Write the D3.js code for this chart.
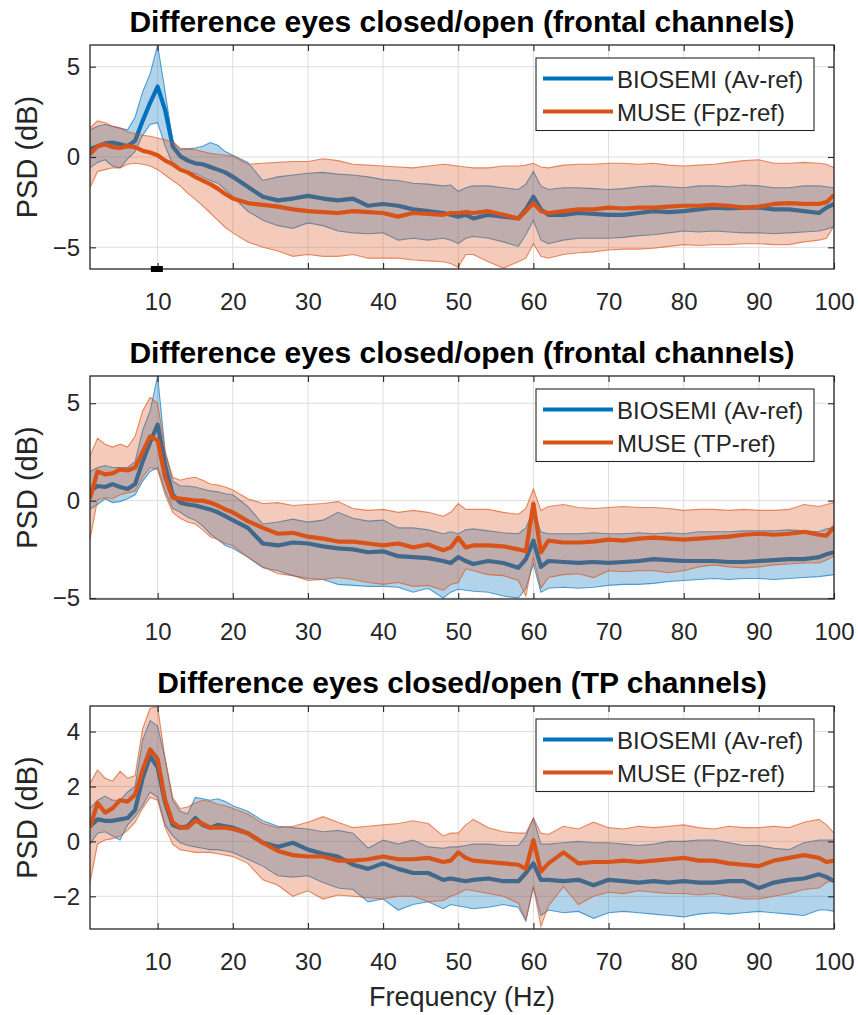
<!DOCTYPE html>
<html>
<head>
<meta charset="utf-8">
<script src="https://cdn.jsdelivr.net/npm/d3@7"></script>
<style>
  body { margin: 0; background: #fff; }
  text { font-family: "Liberation Sans", Arial, Helvetica, sans-serif; fill: #262626; }
</style>
</head>
<body>
<svg id="chart" width="858" height="1015"></svg>
<script>
// frequency bins (Hz) shared by every curve
const freqs = [1,2,3,4,5,6,7,8,9,10, 11,12,13,14,15,16,17,18,19,20,
  22,24,26,28,30,32,34,36,38,40, 42,44,46,48,49,50,51,52,54,56,
  58,59,60,61,62,64,66,68,70,72, 74,76,78,80,82,84,86,88,90,92,
  94,96,98,99,100];

const xTicks = [10,20,30,40,50,60,70,80,90,100];
const titles = ["Difference eyes closed/open (frontal channels)",
                "Difference eyes closed/open (frontal channels)",
                "Difference eyes closed/open (TP channels)"];
const yTicks = [[-5,0,5], [-5,0,5], [-2,0,2,4]];
const blueNames = ["BIOSEMI (Av-ref)", "BIOSEMI (Av-ref)", "BIOSEMI (Av-ref)"];
const museNames = ["MUSE (Fpz-ref)", "MUSE (TP-ref)", "MUSE (Fpz-ref)"];
const sigRange = [9.1, 10.7]; // significant band, panel 1

// panel 1 - frontal, BIOSEMI
const p1BioMean = [0.45,0.6,0.75,0.8,0.7,0.6,0.9,2.0,3.0,3.9,
  2.6,0.6,0.05,-0.2,-0.35,-0.4,-0.55,-0.7,-0.85,-1.1,
  -1.65,-2.2,-2.4,-2.3,-2.15,-2.3,-2.4,-2.3,-2.7,-2.6,
  -2.7,-2.9,-3.0,-3.1,-3.2,-3.3,-3.2,-3.4,-3.2,-3.3,
  -3.4,-2.9,-2.2,-2.9,-3.2,-3.2,-3.1,-3.15,-3.2,-3.2,
  -3.1,-3.0,-3.05,-3.0,-2.9,-2.8,-2.85,-2.8,-2.8,-2.9,
  -2.9,-3.0,-3.1,-2.8,-2.6];
const p1BioHigh = [1.5,1.7,1.8,1.7,1.6,1.5,2.2,3.6,4.6,6.2,
  3.6,0.9,0.4,0.45,0.5,0.6,0.8,0.65,0.3,0.1,
  -0.3,-1.3,-1.1,-1.0,-0.9,-0.85,-0.95,-1.0,-1.1,-1.25,
  -1.3,-1.45,-1.5,-1.6,-1.55,-1.9,-1.7,-1.6,-1.6,-1.7,
  -1.8,-1.5,-0.8,-1.6,-1.8,-1.7,-1.7,-1.75,-1.8,-1.75,
  -1.65,-1.6,-1.65,-1.7,-1.6,-1.6,-1.65,-1.55,-1.6,-1.7,
  -1.7,-1.6,-1.6,-1.65,-1.7];
const p1BioLow = [-0.6,-0.3,-0.15,-0.5,-0.6,-0.1,0.3,1.2,1.8,1.9,
  0.6,-0.4,-0.7,-0.85,-0.9,-1.1,-1.3,-1.45,-1.8,-2.2,
  -3.0,-3.5,-3.8,-3.95,-3.65,-3.8,-4.1,-4.2,-4.25,-4.2,
  -4.6,-4.5,-4.6,-4.5,-4.6,-4.8,-4.5,-4.4,-4.5,-4.7,
  -4.95,-4.3,-3.5,-4.6,-4.8,-4.6,-4.5,-4.5,-4.5,-4.45,
  -4.35,-4.3,-4.2,-4.1,-4.15,-4.1,-4.15,-4.2,-4.2,-4.25,
  -4.2,-4.15,-4.1,-4.0,-3.85];
// panel 1 - frontal, MUSE
const p1MuseMean = [0.15,0.6,0.7,0.55,0.5,0.6,0.55,0.35,0.25,0.1,
  -0.2,-0.4,-0.7,-0.85,-1.1,-1.3,-1.5,-1.75,-2.05,-2.3,
  -2.55,-2.65,-2.75,-2.9,-3.0,-3.05,-3.1,-3.0,-3.05,-3.1,
  -3.3,-3.1,-3.15,-3.2,-3.1,-3.1,-3.05,-3.1,-3.0,-3.2,
  -3.4,-3.0,-2.55,-3.0,-3.1,-3.0,-2.9,-2.9,-2.8,-2.85,
  -2.8,-2.8,-2.75,-2.7,-2.7,-2.65,-2.7,-2.8,-2.75,-2.6,
  -2.55,-2.6,-2.6,-2.5,-2.1];
const p1MuseHigh = [1.6,2.0,1.9,1.7,1.6,1.4,1.3,1.2,1.15,1.05,
  0.95,0.8,0.5,0.45,0.4,0.3,0.2,0.15,0.1,0.05,
  -0.4,-0.35,-0.3,-0.25,-0.25,-0.1,-0.2,-0.4,-0.45,-0.5,
  -0.55,-0.6,-0.5,-0.4,-0.45,-0.5,-0.55,-0.6,-0.6,-0.5,
  -0.5,-0.45,-0.35,-0.55,-0.6,-0.45,-0.4,-0.4,-0.35,-0.35,
  -0.4,-0.35,-0.45,-0.5,-0.45,-0.4,-0.3,-0.2,-0.15,-0.35,
  -0.35,-0.3,-0.35,-0.4,-0.6];
const p1MuseLow = [-1.7,-0.8,-0.7,-0.6,-0.6,-0.4,-0.35,-0.4,-0.5,-0.7,
  -1.0,-1.3,-1.6,-2.0,-2.35,-2.7,-3.1,-3.5,-3.9,-4.2,
  -4.7,-5.0,-5.2,-5.5,-5.4,-5.5,-5.5,-5.4,-5.6,-5.6,
  -5.6,-5.7,-5.75,-5.8,-5.9,-6.1,-5.4,-5.4,-5.8,-6.15,
  -5.8,-5.6,-4.8,-5.5,-5.6,-5.4,-5.3,-5.25,-5.15,-5.1,
  -5.1,-5.05,-4.95,-4.85,-4.9,-4.85,-4.85,-4.8,-4.8,-4.85,
  -4.85,-4.7,-4.6,-4.5,-3.8];

// panel 2 - frontal, BIOSEMI
const p2BioMean = [0.5,0.75,0.7,0.85,0.7,0.6,0.85,2.0,3.0,3.9,
  1.8,0.3,-0.1,-0.2,-0.25,-0.35,-0.45,-0.6,-0.8,-1.0,
  -1.4,-2.2,-2.3,-2.15,-2.2,-2.35,-2.45,-2.5,-2.65,-2.6,
  -2.85,-2.9,-2.95,-3.1,-3.2,-2.9,-3.1,-3.25,-3.1,-3.2,
  -3.45,-3.0,-2.05,-3.4,-3.1,-3.15,-3.2,-3.15,-3.2,-3.15,
  -3.1,-3.0,-3.05,-3.1,-3.1,-3.1,-3.15,-3.15,-3.1,-3.05,
  -3.0,-3.0,-2.9,-2.75,-2.65];
const p2BioHigh = [1.5,1.7,1.8,1.7,1.7,1.7,2.0,3.6,4.6,6.4,
  2.5,1.0,0.75,0.75,0.7,0.6,0.5,0.45,0.35,0.3,
  -0.3,-1.2,-1.1,-0.95,-1.1,-1.0,-0.6,-0.9,-1.05,-1.0,
  -1.4,-1.4,-1.5,-1.7,-1.6,-1.7,-1.5,-1.45,-1.55,-1.65,
  -1.7,-1.4,-0.5,-1.6,-1.7,-1.7,-1.7,-1.65,-1.7,-1.7,
  -1.65,-1.7,-1.65,-1.7,-1.6,-1.6,-1.6,-1.55,-1.55,-1.55,
  -1.5,-1.55,-1.6,-1.45,-1.4];
const p2BioLow = [-0.45,-0.2,0.1,-0.1,-0.05,0.1,0.3,1.0,1.5,1.7,
  0.5,-0.4,-0.6,-0.85,-1.0,-1.3,-1.7,-2.0,-2.3,-2.45,
  -2.9,-3.45,-3.6,-3.85,-4.0,-4.05,-4.3,-4.35,-4.4,-4.4,
  -4.45,-4.7,-4.5,-5.0,-4.7,-4.55,-4.6,-4.65,-4.7,-4.9,
  -5.0,-4.5,-3.25,-4.7,-4.5,-4.45,-4.5,-4.45,-4.35,-4.3,
  -4.3,-4.25,-4.15,-4.1,-4.05,-4.0,-4.05,-4.0,-4.0,-4.05,
  -4.0,-3.95,-3.9,-3.85,-3.8];
// panel 2 - frontal, MUSE
const p2MuseMean = [0.1,1.5,1.35,1.4,1.6,1.55,1.7,2.5,3.3,3.1,
  1.2,0.15,0.1,0.05,0.0,0.0,-0.1,-0.25,-0.45,-0.6,
  -1.05,-1.4,-1.7,-1.65,-1.85,-1.95,-2.1,-2.1,-2.2,-2.3,
  -2.2,-2.4,-2.25,-2.55,-2.4,-1.9,-2.4,-2.3,-2.3,-2.35,
  -2.5,-2.6,-0.15,-2.65,-2.05,-2.15,-2.15,-2.1,-2.0,-2.05,
  -1.95,-1.9,-1.95,-2.0,-1.95,-1.9,-1.85,-1.75,-1.7,-1.75,
  -1.7,-1.6,-1.75,-1.8,-1.35];
const p2MuseHigh = [2.3,3.2,2.9,2.75,2.9,2.75,3.3,4.6,5.3,5.0,
  2.5,1.2,1.05,1.15,1.2,1.05,0.85,0.8,0.7,0.55,
  0.1,-0.15,-0.1,-0.25,-0.2,-0.15,-0.05,-0.4,-0.5,-0.45,
  -0.6,-0.5,-0.6,-0.8,-0.6,-0.15,-0.45,-0.45,-0.45,-0.6,
  -0.7,-0.4,0.6,-0.5,-0.3,-0.2,-0.35,-0.4,-0.35,-0.3,
  -0.35,-0.35,-0.4,-0.5,-0.45,-0.45,-0.5,-0.45,-0.5,-0.5,
  -0.45,-0.2,-0.3,-0.2,-0.1];
const p2MuseLow = [-2.0,0.05,0.15,0.1,0.3,0.4,0.5,1.2,1.7,1.6,
  0.3,-0.6,-0.9,-1.1,-1.2,-1.5,-1.85,-2.0,-2.2,-2.3,
  -2.9,-3.4,-3.75,-3.85,-4.1,-4.05,-3.95,-4.05,-4.2,-4.3,
  -4.2,-4.4,-4.35,-4.6,-4.3,-4.2,-3.5,-3.6,-3.8,-3.85,
  -4.1,-4.9,-2.9,-4.5,-3.95,-3.8,-3.75,-3.95,-3.6,-3.65,
  -3.6,-3.6,-3.7,-3.6,-3.4,-3.3,-3.4,-3.45,-3.4,-3.3,
  -3.25,-3.2,-3.2,-3.05,-2.85];

// panel 3 - TP, BIOSEMI
const p3BioMean = [0.55,0.8,0.75,0.75,0.8,0.85,1.15,2.3,3.1,2.7,
  1.4,0.6,0.5,0.55,0.85,0.6,0.5,0.6,0.55,0.5,
  0.3,-0.05,-0.2,-0.05,-0.3,-0.45,-0.55,-0.85,-1.0,-0.8,
  -1.0,-1.15,-1.15,-1.4,-1.35,-1.4,-1.45,-1.4,-1.35,-1.45,
  -1.45,-1.15,-0.8,-1.4,-1.4,-1.45,-1.4,-1.6,-1.4,-1.45,
  -1.5,-1.45,-1.5,-1.45,-1.5,-1.5,-1.45,-1.45,-1.7,-1.5,
  -1.4,-1.35,-1.2,-1.3,-1.45];
const p3BioHigh = [1.2,1.5,1.65,1.5,1.5,1.8,2.0,3.7,4.4,4.2,
  3.0,1.5,1.1,1.0,1.6,1.55,1.5,1.55,1.45,1.3,
  1.1,0.75,0.55,0.5,0.45,0.35,0.4,0.3,-0.25,0.05,
  -0.1,0.05,-0.2,-0.25,-0.2,-0.2,-0.15,-0.1,-0.1,-0.15,
  -0.15,0.2,0.85,-0.1,-0.1,-0.05,0.0,-0.05,-0.05,-0.1,
  -0.15,-0.1,0.0,0.0,0.05,0.05,-0.05,-0.15,-0.15,-0.25,
  -0.3,-0.05,0.05,0.05,0.05];
const p3BioLow = [-0.1,0.3,0.35,0.2,0.05,0.6,0.9,1.3,1.8,1.6,
  0.6,0.2,-0.05,-0.15,-0.2,-0.25,-0.3,-0.3,-0.35,-0.4,
  -0.65,-0.9,-1.25,-1.3,-1.25,-1.5,-1.7,-1.75,-2.2,-2.1,
  -2.5,-2.3,-2.2,-2.45,-2.3,-2.35,-2.4,-2.45,-2.4,-2.3,
  -2.4,-2.9,-1.65,-2.7,-2.5,-2.6,-2.55,-2.8,-2.6,-2.55,
  -2.6,-2.65,-2.7,-2.75,-2.65,-2.6,-2.65,-2.6,-2.55,-2.6,
  -2.65,-2.7,-2.5,-2.5,-2.55];
// panel 3 - TP, MUSE
const p3MuseMean = [0.5,1.4,1.05,1.2,1.5,1.45,1.7,2.6,3.35,3.0,
  1.5,0.7,0.5,0.5,0.75,0.65,0.5,0.5,0.5,0.45,
  0.3,-0.05,-0.35,-0.5,-0.55,-0.55,-0.7,-0.7,-0.65,-0.55,
  -0.65,-0.65,-0.6,-0.75,-0.7,-0.4,-0.6,-0.7,-0.75,-0.8,
  -0.85,-1.0,0.05,-1.1,-0.8,-0.4,-0.8,-0.75,-0.75,-0.7,
  -0.75,-0.7,-0.65,-0.6,-0.7,-0.7,-0.8,-0.85,-0.9,-0.7,
  -0.6,-0.5,-0.6,-0.75,-0.7];
const p3MuseHigh = [2.1,2.6,2.3,2.2,2.55,2.3,2.4,4.1,4.85,4.9,
  3.0,1.6,1.2,1.25,1.4,1.5,1.45,1.35,1.3,1.2,
  1.0,0.65,0.5,0.55,0.7,0.9,0.7,0.5,0.55,0.6,
  0.65,0.75,0.65,0.2,0.3,0.3,0.6,0.8,0.5,0.35,
  0.3,0.3,0.85,0.3,0.25,0.55,0.45,0.7,0.5,0.45,
  0.55,0.5,0.55,0.6,0.5,0.45,0.55,0.5,0.5,0.55,
  0.5,0.7,0.8,0.6,0.3];
const p3MuseLow = [-1.5,-0.1,0.05,0.1,0.2,0.4,0.7,1.2,1.6,1.5,
  0.5,-0.1,-0.3,-0.35,-0.4,-0.4,-0.4,-0.45,-0.5,-0.55,
  -0.8,-1.4,-1.6,-2.0,-1.8,-2.1,-1.95,-2.0,-2.05,-2.1,
  -2.0,-2.0,-2.2,-2.15,-2.0,-1.9,-1.75,-1.8,-1.9,-2.0,
  -2.25,-2.85,-1.65,-3.1,-2.35,-1.65,-2.3,-2.0,-1.85,-1.9,
  -1.8,-1.85,-1.9,-1.9,-1.95,-1.9,-2.0,-2.1,-2.1,-2.0,
  -1.9,-1.75,-1.7,-1.5,-1.4];

const blue = "#0072BD", orange = "#D95319", ink = "#262626";

const panels = [
  { top: 45,  bottom: 269, yDomain: [-6.2, 6.2],
    bio: [p1BioMean, p1BioLow, p1BioHigh], muse: [p1MuseMean, p1MuseLow, p1MuseHigh], sig: sigRange },
  { top: 376, bottom: 599, yDomain: [-5.05, 6.4],
    bio: [p2BioMean, p2BioLow, p2BioHigh], muse: [p2MuseMean, p2MuseLow, p2MuseHigh] },
  { top: 706, bottom: 929, yDomain: [-3.19, 4.93],
    bio: [p3BioMean, p3BioLow, p3BioHigh], muse: [p3MuseMean, p3MuseLow, p3MuseHigh] }
];

const svg = d3.select("#chart");
svg.append("rect").attr("width", 858).attr("height", 1015).attr("fill", "#fff");

const left = 90, right = 834;
const x = d3.scaleLinear().domain([1, 100]).range([left, right]);

panels.forEach((p, i) => {
  const y = d3.scaleLinear().domain(p.yDomain).range([p.bottom, p.top]);
  const g = svg.append("g");

  g.append("defs").append("clipPath").attr("id", "clip" + i)
    .append("rect").attr("x", left).attr("y", p.top)
    .attr("width", right - left).attr("height", p.bottom - p.top);

  // grid
  g.append("g").selectAll("line").data(xTicks).join("line")
    .attr("x1", d => x(d)).attr("x2", d => x(d))
    .attr("y1", p.top).attr("y2", p.bottom)
    .attr("stroke", "#dedede").attr("stroke-width", 1);
  g.append("g").selectAll("line").data(yTicks[i]).join("line")
    .attr("x1", left).attr("x2", right)
    .attr("y1", d => y(d)).attr("y2", d => y(d))
    .attr("stroke", "#dedede").attr("stroke-width", 1);

  const plot = g.append("g").attr("clip-path", "url(#clip" + i + ")");

  function drawSeries(arrs, color) {
    const [mean, low, high] = arrs;
    const rows = freqs.map((f, k) => ({ f, m: mean[k], lo: low[k], hi: high[k] }));
    plot.append("path").datum(rows)
      .attr("fill", color).attr("fill-opacity", 0.3)
      .attr("d", d3.area().x(d => x(d.f)).y0(d => y(d.lo)).y1(d => y(d.hi)));
    ["lo", "hi"].forEach(key => {
      plot.append("path").datum(rows)
        .attr("fill", "none").attr("stroke", color).attr("stroke-opacity", 0.65)
        .attr("stroke-width", 1.1)
        .attr("d", d3.line().x(d => x(d.f)).y(d => y(d[key])));
    });
    plot.append("path").datum(rows)
      .attr("fill", "none").attr("stroke", color).attr("stroke-width", 4.2)
      .attr("stroke-linejoin", "round")
      .attr("d", d3.line().x(d => x(d.f)).y(d => y(d.m)));
  }
  drawSeries(p.bio, blue);
  drawSeries(p.muse, orange);

  // axes, ticks pointing inward
  const styleAxis = sel => {
    sel.select(".domain").remove();
    sel.selectAll(".tick line").attr("stroke", ink).attr("stroke-width", 1.1);
    sel.selectAll("text").style("font-size", "24px").attr("fill", ink);
  };
  g.append("g").attr("transform", `translate(0,${p.bottom})`)
    .call(d3.axisBottom(x).tickValues(xTicks).tickSize(-6).tickPadding(24))
    .call(styleAxis);
  g.append("g").attr("transform", `translate(0,${p.top})`)
    .call(d3.axisTop(x).tickValues(xTicks).tickSize(-6).tickFormat(""))
    .call(styleAxis);
  g.append("g").attr("transform", `translate(${left},0)`)
    .call(d3.axisLeft(y).tickValues(yTicks[i]).tickSize(-6).tickPadding(10))
    .call(styleAxis);
  g.append("g").attr("transform", `translate(${right},0)`)
    .call(d3.axisRight(y).tickValues(yTicks[i]).tickSize(-6).tickFormat(""))
    .call(styleAxis);
  g.selectAll("g.tick text").attr("font-family", null);

  g.append("rect").attr("x", left).attr("y", p.top)
    .attr("width", right - left).attr("height", p.bottom - p.top)
    .attr("fill", "none").attr("stroke", ink).attr("stroke-width", 1.3);

  if (p.sig) {
    g.append("line").attr("x1", x(p.sig[0])).attr("x2", x(p.sig[1]))
      .attr("y1", p.bottom).attr("y2", p.bottom)
      .attr("stroke", "#000").attr("stroke-width", 6);
  }

  // title
  g.append("text").attr("x", (left + right) / 2).attr("y", p.top - 13)
    .attr("text-anchor", "middle").style("font-size", "30px").style("font-weight", "bold")
    .style("fill", "#000").text(titles[i]);

  // y label
  g.append("text")
    .attr("transform", `translate(37,${(p.top + p.bottom) / 2}) rotate(-90)`)
    .attr("text-anchor", "middle").style("font-size", "29px").text("PSD (dB)");

  // legend
  const lx = 536, ly = p.top + 13;
  const lg = g.append("g");
  lg.append("rect").attr("x", lx).attr("y", ly).attr("width", 278).attr("height", 72.5)
    .attr("fill", "#fff").attr("stroke", ink).attr("stroke-width", 1.1);
  [[blueNames[i], blue], [museNames[i], orange]].forEach(([name, c], k) => {
    const cy = ly + 20.5 + k * 33;
    lg.append("line").attr("x1", lx + 7).attr("x2", lx + 77)
      .attr("y1", cy).attr("y2", cy).attr("stroke", c).attr("stroke-width", 4);
    lg.append("text").attr("x", lx + 81).attr("y", cy + 9)
      .style("font-size", "24px").text(name);
  });
});

svg.append("text").attr("x", (left + right) / 2).attr("y", 1006)
  .attr("text-anchor", "middle").style("font-size", "27px").text("Frequency (Hz)");
</script>
</body>
</html>
